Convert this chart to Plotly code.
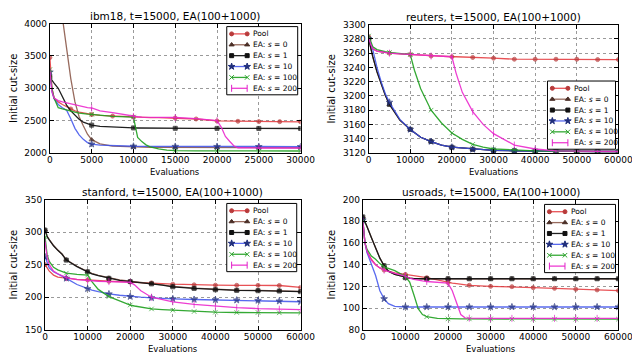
import plotly.graph_objects as go

W, H = 640, 353
FONT = "DejaVu Sans, Liberation Sans, sans-serif"

# ------------------------------------------------------------------ data
SERIES = ["pool", "s0", "s1", "s10", "s100", "s200"]
LABELS = {
    "pool": "Pool",
    "s0": "EA: <i>s</i> = 0",
    "s1": "EA: <i>s</i> = 1",
    "s10": "EA: <i>s</i> = 10",
    "s100": "EA: <i>s</i> = 100",
    "s200": "EA: <i>s</i> = 200",
}
X_TITLE = "Evaluations"
Y_TITLE = "Initial cut-size"

# ibm18
ibm_x = [0, 250, 500, 1000, 1500, 2000, 2500, 3000, 3500, 4000, 4500, 5000, 6000, 7500,
         10000, 10500, 11000, 11500, 12000, 13000, 14000, 15000, 17500, 20000, 20500,
         21000, 21500, 22000, 22500, 23000, 24000, 25000, 27500, 30000]
ibm_pool = [3475, 3000, 2850, 2790, 2750, 2715, 2680, 2650, 2630, 2615, 2605, 2595, 2580, 2570,
            2555, 2553, 2551, 2549, 2547, 2545, 2543, 2540, 2525, 2495, 2494,
            2493, 2492, 2491, 2490, 2489, 2487, 2485, 2484, 2480]
ibm_s0 = [5800, 5480, 5170, 4600, 4090, 3600, 3150, 2790, 2560, 2420, 2290, 2205, 2140, 2105,
          2090, 2088, 2087, 2086, 2086, 2085, 2085, 2084, 2083, 2082, 2082,
          2082, 2082, 2082, 2081, 2081, 2081, 2081, 2080, 2080]
ibm_s1 = [3170, 3120, 3080, 3000, 2880, 2740, 2650, 2580, 2520, 2475, 2450, 2430, 2410, 2398,
          2387, 2386, 2385, 2384, 2384, 2383, 2382, 2381, 2380, 2380, 2380,
          2380, 2380, 2380, 2379, 2379, 2379, 2379, 2378, 2378]
ibm_s10 = [3250, 2950, 2840, 2750, 2700, 2660, 2530, 2380, 2280, 2210, 2160, 2135, 2120, 2110,
           2103, 2102, 2102, 2101, 2101, 2100, 2100, 2100, 2100, 2099, 2099,
           2099, 2099, 2099, 2099, 2099, 2098, 2098, 2098, 2098]
ibm_s100 = [3290, 3000, 2850, 2700, 2680, 2660, 2645, 2630, 2615, 2605, 2600, 2598, 2585, 2565,
            2555, 2240, 2175, 2125, 2095, 2062, 2042, 2035, 2032, 2030, 2030,
            2030, 2030, 2030, 2030, 2030, 2030, 2030, 2030, 2030]
ibm_s200 = [3260, 2950, 2850, 2810, 2790, 2775, 2760, 2740, 2725, 2710, 2700, 2695, 2650, 2625,
            2565, 2560, 2555, 2552, 2550, 2550, 2550, 2548, 2530, 2500, 2400,
            2255, 2180, 2110, 2080, 2077, 2076, 2076, 2076, 2076]

# reuters
reu_x = [0, 500, 1000, 2000, 3000, 4000, 5000, 7500, 10000, 11000, 12500, 15000, 17500, 20000,
         21000, 22500, 25000, 27500, 30000, 35000, 40000, 45000, 50000, 55000, 60000]
reu_pool = [3283, 3272, 3266, 3263, 3262, 3261, 3260, 3259, 3258, 3258, 3257, 3256, 3255.5, 3255,
            3255, 3254.5, 3254, 3253.5, 3253, 3251.5, 3251.5, 3251.5, 3251.5, 3251, 3251]
reu_s0 = [3280, 3267, 3255, 3234, 3216, 3201, 3188, 3166, 3153, 3149, 3142, 3136, 3131, 3128,
          3127.5, 3126.5, 3125, 3124, 3123.5, 3123, 3122.5, 3122.5, 3122, 3122, 3122]
reu_s1 = [3280, 3267, 3255, 3234, 3216, 3201, 3188, 3166, 3153, 3149, 3142, 3136, 3131, 3128,
          3127.5, 3126.5, 3125, 3124, 3123.5, 3123, 3122.5, 3122.5, 3122, 3122, 3122]
reu_s10 = [3280, 3275, 3265, 3240, 3220, 3203, 3191, 3167, 3153, 3149, 3142, 3136, 3131, 3128,
           3127.5, 3126.5, 3125, 3124, 3123.5, 3123, 3122.5, 3122.5, 3122, 3122, 3122]
reu_s100 = [3284, 3275, 3269, 3265, 3263, 3262, 3261, 3259.5, 3258, 3236, 3210, 3180, 3162, 3148,
            3144, 3139, 3132, 3128, 3125.5, 3124, 3123, 3122.5, 3122.5, 3122, 3122]
reu_s200 = [3282, 3272, 3266, 3263, 3262, 3261, 3260, 3259, 3258, 3258, 3257, 3256, 3255.5, 3255,
            3232, 3205, 3178, 3160, 3147, 3131, 3125.5, 3123, 3122.5, 3122, 3122]

# stanford
sta_x = [0, 500, 1000, 2000, 3000, 4000, 5000, 7500, 10000, 11000, 12500, 15000, 17500, 20000,
         21000, 22500, 25000, 27500, 30000, 35000, 40000, 45000, 50000, 55000, 60000]
sta_pool = [250, 244, 240, 234, 231, 230, 229, 227.5, 226.5, 226, 225.5, 224.5, 224, 223.5,
            223.3, 223, 222, 221, 220, 219, 218.5, 218.3, 218.2, 218, 215]
sta_s0 = [303.5, 293.5, 288.5, 279.5, 272.5, 266.5, 257.5, 247.5, 239.5, 236.5, 233.5, 229.5, 226.5, 224.5,
          224, 223, 221, 219, 216.5, 214, 212, 211, 210.5, 210, 209]
sta_s1 = [303, 293, 288, 279, 272, 266, 257, 247, 239, 236, 233, 229, 226, 224,
          223.5, 222.5, 220.5, 218.5, 216, 213.5, 211.5, 210.5, 210, 209.5, 208.5]
sta_s10 = [262, 252, 245, 239, 236, 233, 229, 219.5, 213, 211, 208.5, 205, 203, 201,
           200.5, 200, 199, 198, 197.5, 196.5, 196, 195.5, 195, 194, 193]
sta_s100 = [293, 265, 255, 246, 242, 239, 237, 235, 234, 224, 212, 201, 194, 188,
            186.5, 185, 182, 181, 180, 178, 177, 176.5, 176.5, 176, 176]
sta_s200 = [285, 262, 250, 240, 236, 233, 230, 227, 225.5, 225, 224.5, 224, 223.5, 223,
            219, 210, 200, 196, 193, 189, 186, 184, 182.5, 181.5, 181]

# usroads
usr_x = [0, 500, 1000, 2000, 3000, 4000, 5000, 6000, 7500, 10000, 11000, 12000, 12500, 13000,
         14000, 15000, 17500, 20000, 21000, 22000, 22500, 23000, 24000, 25000, 30000, 35000,
         40000, 45000, 50000, 55000, 60000]
usr_pool = [182, 160, 152, 145, 140, 137, 135, 134, 132.5, 131, 130.5, 130, 129.5, 129,
            128.5, 128, 126, 123.5, 123, 122.5, 122.3, 122, 121.5, 121, 120, 119.7,
            118.8, 118.2, 117.3, 116.7, 116.1]
usr_s0 = [184, 180, 175, 165, 155, 146, 139, 134, 131, 128, 127.5, 127.2, 127, 127,
          127, 127, 127, 127, 127, 127, 127, 127, 127, 127, 127, 127,
          127, 127, 127, 127, 127]
usr_s1 = [184, 180, 175, 165, 155, 146, 139, 134, 131, 128, 127.5, 127.2, 127, 127,
          127, 127, 127, 127, 127, 127, 127, 127, 127, 127, 127, 127,
          127, 127, 127, 127, 127]
usr_s10 = [181, 160, 151, 140, 130, 116, 108.5, 104, 101.5, 101, 101, 101, 101, 101,
           101, 101, 101, 101, 101, 101, 101, 101, 101, 101, 101, 101,
           101, 101, 101, 101, 101]
usr_s100 = [180, 160, 154, 148, 145, 141, 138, 136.5, 134.5, 129, 124, 112, 105, 99.5,
            94, 92, 90.5, 90, 90, 90, 90, 90, 90, 90, 90, 89.8,
            89.8, 89.8, 89.8, 89.8, 89.8]
usr_s200 = [180, 160, 152, 144, 140, 137, 135, 133.5, 132, 129.5, 127.5, 126.5, 126, 125.5,
            125, 124.5, 123.5, 123, 116, 104, 99.5, 94, 91, 90.7, 90.5, 90.5,
            90.5, 90.5, 90.5, 90.5, 90.5]

# ------------------------------------------------------------------ styles
STYLE = {
    "pool": dict(line="rgba(228,50,55,0.85)", mk="#b83a3a", sym="circle", size=4),
    "s0": dict(line="rgba(140,90,75,0.9)", mk="#4a2e26", sym="triangle-up", size=4.5),
    "s1": dict(line="rgba(20,20,20,0.95)", mk="#111111", sym="square", size=4),
    "s10": dict(line="rgba(60,80,235,0.85)", mk="#1f2d7a", sym="star", size=5),
    "s100": dict(line="rgba(30,160,30,0.9)", mk="#2aa02a", sym="x-thin-open", size=4.5),
    "s200": dict(line="rgba(235,40,205,0.9)", mk="#e020c8", sym="line-ns-open", size=5),
}

PANELS = [
    dict(title="ibm18, t=15000, EA(100+1000)", x=ibm_x,
         y=dict(pool=ibm_pool, s0=ibm_s0, s1=ibm_s1, s10=ibm_s10, s100=ibm_s100, s200=ibm_s200),
         xr=[0, 30000], xd=5000, yr=[2000, 4000], yd=500,
         step=dict(pool=2500), px=(40, 298, 11, 144), leg=(222, 14, 73)),
    dict(title="reuters, t=15000, EA(100+1000)", x=reu_x,
         y=dict(pool=reu_pool, s0=reu_s0, s1=reu_s1, s10=reu_s10, s100=reu_s100, s200=reu_s200),
         xr=[0, 60000], xd=10000, yr=[3120, 3300], yd=20,
         step={}, px=(368, 625, 12, 144), leg=(552, 70, 70)),
    dict(title="stanford, t=15000, EA(100+1000)", x=sta_x,
         y=dict(pool=sta_pool, s0=sta_s0, s1=sta_s1, s10=sta_s10, s100=sta_s100, s200=sta_s200),
         xr=[0, 60000], xd=10000, yr=[150, 350], yd=50,
         step={}, px=(35, 298, 192, 326), leg=(222, 196, 72)),
    dict(title="usroads, t=15000, EA(100+1000)", x=usr_x,
         y=dict(pool=usr_pool, s0=usr_s0, s1=usr_s1, s10=usr_s10, s100=usr_s100, s200=usr_s200),
         xr=[0, 60000], xd=10000, yr=[80, 200], yd=20,
         step={}, px=(362, 625, 192, 326), leg=(549, 197, 73)),
]

ENTRY_GAP = 11.2
XTITLE_GAP = 20  # px from plot bottom to x-title centre
fig = go.Figure()
layout = dict(
    width=W, height=H, margin=dict(l=0, r=0, t=0, b=0),
    paper_bgcolor="white", plot_bgcolor="rgba(0,0,0,0)",
    showlegend=False, font=dict(family=FONT, size=9, color="black"),
)
annotations = []


def marker_sizes(xs, step, size):
    return [size if (xv % step == 0) else 0 for xv in xs]


for i, p in enumerate(PANELS, start=1):
    xa = "x" if i == 1 else f"x{i}"
    ya = "y" if i == 1 else f"y{i}"
    l, r, t, b = p["px"]
    dom_x = [l / W, r / W]
    dom_y = [1 - b / H, 1 - t / H]
    for s in SERIES:
        st = STYLE[s]
        step = p["step"].get(s, 5000)
        fig.add_trace(go.Scatter(
            x=p["x"], y=p["y"][s], xaxis=xa, yaxis=ya, mode="lines+markers",
            name=LABELS[s].replace("<i>", "").replace("</i>", ""),
            line=dict(color=st["line"], width=1.3),
            marker=dict(symbol=st["sym"], size=marker_sizes(p["x"], step, st["size"]),
                        color=st["mk"], line=dict(color=st["mk"], width=1)),
            cliponaxis=True,
        ))
    axcommon = dict(showline=True, linecolor="black", linewidth=1, mirror="allticks",
                    ticks="inside", ticklen=4, tickcolor="black",
                    showgrid=True, gridcolor="#9a9a9a", griddash="dot", gridwidth=1,
                    zeroline=False, tickfont=dict(size=9), fixedrange=True, tickformat="d")
    key = "xaxis" if i == 1 else f"xaxis{i}"
    ykey = "yaxis" if i == 1 else f"yaxis{i}"
    layout[key] = dict(axcommon, domain=dom_x, range=p["xr"], dtick=p["xd"], tick0=0, anchor=ya,
                       ticklabelstandoff=-2)
    layout[ykey] = dict(axcommon, domain=dom_y, range=p["yr"], dtick=p["yd"], tick0=0,
                        anchor=xa, title=dict(text=Y_TITLE, font=dict(size=10), standoff=5))
    annotations.append(dict(text=p["title"], xref="paper", yref="paper",
                            x=(dom_x[0] + dom_x[1]) / 2, y=dom_y[1], yanchor="bottom",
                            xanchor="center", showarrow=False, yshift=0,
                            font=dict(size=10.5)))
    annotations.append(dict(text=X_TITLE, xref="paper", yref="paper",
                            x=(dom_x[0] + dom_x[1]) / 2, y=1 - (b + XTITLE_GAP) / H,
                            yanchor="middle", xanchor="center", showarrow=False,
                            font=dict(size=8.5), borderpad=0))

    # legend box (drawn on an overlay axis measured in pixels)
    lx, ly, lw = p["leg"]
    lh = ENTRY_GAP * len(SERIES) + 3
    fig.add_trace(go.Scatter(
        x=[lx, lx + lw, lx + lw, lx, lx], y=[ly, ly, ly + lh, ly + lh, ly],
        xaxis="x5", yaxis="y5", mode="lines", fill="toself", fillcolor="white",
        line=dict(color="black", width=1), hoverinfo="skip"))
    for j, s in enumerate(SERIES):
        st = STYLE[s]
        yy = ly + 7.5 + j * ENTRY_GAP
        fig.add_trace(go.Scatter(
            x=[lx + 5, lx + 21], y=[yy, yy], xaxis="x5", yaxis="y5", mode="lines+markers",
            line=dict(color=st["line"], width=1.3),
            marker=dict(symbol=st["sym"], size=st["size"], color=st["mk"],
                        line=dict(color=st["mk"], width=1)),
            hoverinfo="skip"))
        annotations.append(dict(text=LABELS[s], xref="x5", yref="y5", x=lx + 25, y=yy,
                                xanchor="left", yanchor="middle", showarrow=False,
                                font=dict(size=7.5)))

layout["xaxis5"] = dict(domain=[0, 1], range=[0, W], visible=False, fixedrange=True, anchor="y5")
layout["yaxis5"] = dict(domain=[0, 1], range=[H, 0], visible=False, fixedrange=True, anchor="x5")
layout["annotations"] = annotations
fig.update_layout(**layout)
fig.write_html("out.html")
